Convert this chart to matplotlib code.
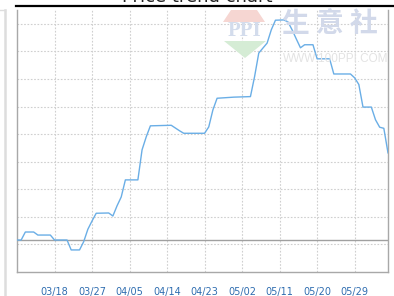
"""Price trend line chart (03/09 - 06/06) with PPI watermark."""

from datetime import date, timedelta
import matplotlib
matplotlib.use('Agg')
import matplotlib.pyplot as plt
from matplotlib.lines import Line2D
from matplotlib.patches import Polygon

# Data (values in grid units, one grid step = 1)
START = date(2023, 3, 9)
END = date(2023, 6, 6)
day_offsets = [0, 1, 2, 4, 5, 8, 9, 12, 13, 15, 16, 17, 18, 19, 22, 23, 24, 25,
               26, 29, 30, 31, 32, 37, 38, 39, 40, 45, 46, 47, 48, 52, 56, 57,
               58, 59, 60, 61, 62, 64, 65, 66, 67, 68, 69, 71, 72, 75, 76, 80,
               81, 82, 83, 85, 86, 87, 88, 89]
values = [1.16, 1.16, 1.45, 1.45, 1.34, 1.34, 1.16, 1.16, 0.80, 0.80, 1.10,
          1.55, 1.85, 2.13, 2.14, 2.03, 2.40, 2.72, 3.34, 3.34, 4.43, 4.90,
          5.30, 5.32, 5.22, 5.12, 5.03, 5.03, 5.26, 5.88, 6.30, 6.34, 6.36,
          7.09, 7.94, 8.12, 8.30, 8.78, 9.13, 9.14, 9.07, 8.78, 8.45, 8.13,
          8.24, 8.24, 7.73, 7.73, 7.18, 7.18, 7.04, 6.80, 5.98, 5.98, 5.52,
          5.25, 5.21, 4.32]
baseline = 1.16
tick_labels = ['03/18', '03/27', '04/05', '04/14', '04/23',
               '05/02', '05/11', '05/20', '05/29']
title = 'Price trend chart'

dates = [START + timedelta(days=d) for d in day_offsets]
tick_dates = [START + timedelta(days=9 * (i + 1)) for i in range(len(tick_labels))]

fig = plt.figure(figsize=(3.94, 2.96), dpi=100)
fig.patch.set_facecolor('white')
ax = fig.add_axes([17 / 394, 24 / 296, 371 / 394, 262 / 296])

# Watermark (behind everything)
W, H = 394, 296
def fx(x): return x / W
def fy(y): return 1 - y / H
fig.patches.append(Polygon([(fx(223), fy(22)), (fx(231), fy(10)), (fx(257), fy(10)), (fx(265), fy(22))],
                           closed=True, transform=fig.transFigure, facecolor='#f6d6d2',
                           edgecolor='none', zorder=0))
fig.patches.append(Polygon([(fx(224), fy(41)), (fx(266), fy(41)), (fx(245), fy(58))],
                           closed=True, transform=fig.transFigure, facecolor='#d5ecd5',
                           edgecolor='none', zorder=0))
fig.text(fx(245), fy(31), 'PPI', ha='center', va='center', fontsize=15, fontweight='bold',
         color='#d3dcec', family='Liberation Serif', zorder=0)
fig.text(fx(330), fy(24), '生 意 社', ha='center', va='center', fontsize=20, fontweight='bold',
         color='#d2d9ea', family=['Noto Sans CJK SC', 'DejaVu Sans'], zorder=0)
fig.text(fx(336), fy(59), 'WWW.100PPI.COM', ha='center', va='center', fontsize=8.5,
         color='#e3e3e3', family='Liberation Sans', zorder=0)

ax.set_facecolor('none')
ax.plot(dates, values, color='#6aaee6', linewidth=1.0, zorder=3)
ax.axhline(baseline, color='#a0a0a0', linewidth=1.0, zorder=2)

ax.set_xlim(START, END)
ax.set_ylim(0, 9.5)
ax.set_yticks(range(1, 10))
ax.set_yticklabels([])
ax.set_xticks(tick_dates)
ax.set_xticklabels(tick_labels)
ax.tick_params(axis='both', length=0)
ax.tick_params(axis='x', pad=11, labelsize=7, labelcolor='#2f6db0')
ax.grid(True, color='#cfcfcf', linestyle=(0, (1.5, 1.5)), linewidth=0.8)

for side in ['left', 'bottom', 'right']:
    ax.spines[side].set_color('#a8a8a8')
    ax.spines[side].set_linewidth(1.0)
ax.spines['top'].set_visible(False)

# Title (mostly cut off by the top edge) and black rule under it
fig.text(0.5, 1 - 1.5 / H, title, ha='center', va='baseline', fontsize=13, color='#222222')
fig.add_artist(Line2D([fx(16), 1], [fy(6), fy(6)], color='black', linewidth=1.6,
                      transform=fig.transFigure))

# Light frame on the left
fig.add_artist(Line2D([fx(5), fx(5)], [fy(10), 0], color='#dddddd', linewidth=1.8,
                      transform=fig.transFigure))
fig.add_artist(Line2D([0, fx(5)], [fy(10), fy(10)], color='#dddddd', linewidth=1.0,
                      transform=fig.transFigure))

fig.savefig('out.png', dpi=100, facecolor='white')
plt.close(fig)
